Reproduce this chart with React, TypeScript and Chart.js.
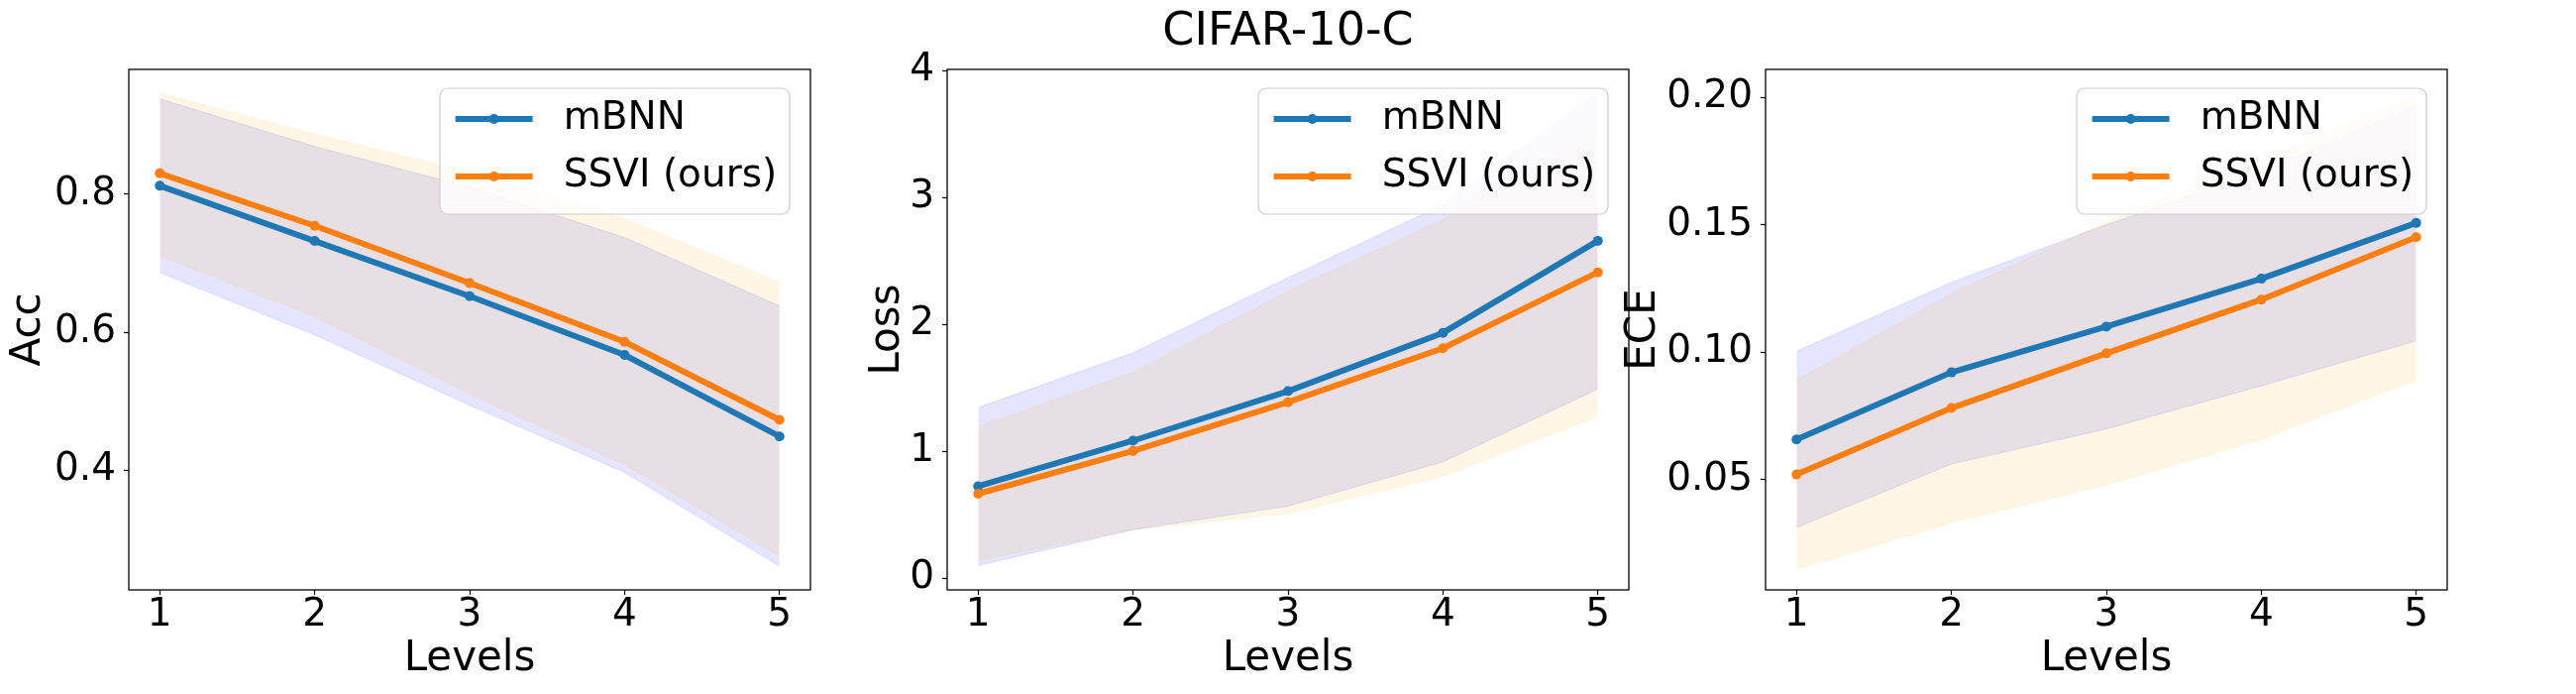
import React, { useEffect, useRef } from "react";
import { Chart, registerables } from "chart.js";

Chart.register(...registerables);

// ---------- data ----------
const levels = [1, 2, 3, 4, 5];
const seriesNames = ["mBNN", "SSVI (ours)"];
const chartTitle = "CIFAR-10-C";
const xLabel = "Levels";
const xTicks = [1, 2, 3, 4, 5];
const xTickLabels = ["1", "2", "3", "4", "5"];

// Acc
const accMbnn = [0.812, 0.732, 0.652, 0.567, 0.449];
const accSsvi = [0.83, 0.754, 0.671, 0.586, 0.473];
const accMbnnLow = [0.686, 0.596, 0.494, 0.397, 0.261];
const accMbnnHigh = [0.938, 0.869, 0.81, 0.737, 0.638];
const accSsviLow = [0.711, 0.622, 0.51, 0.408, 0.275];
const accSsviHigh = [0.946, 0.887, 0.831, 0.764, 0.672];
const accTicks = [0.4, 0.6, 0.8];
const accTickLabels = ["0.4", "0.6", "0.8"];

// Loss
const lossMbnn = [0.725, 1.084, 1.474, 1.934, 2.659];
const lossSsvi = [0.666, 1.003, 1.387, 1.812, 2.411];
const lossMbnnLow = [0.1, 0.383, 0.568, 0.916, 1.491];
const lossMbnnHigh = [1.345, 1.777, 2.37, 2.944, 3.826];
const lossSsviLow = [0.14, 0.383, 0.509, 0.805, 1.275];
const lossSsviHigh = [1.195, 1.624, 2.265, 2.826, 3.54];
const lossTicks = [0, 1, 2, 3, 4];
const lossTickLabels = ["0", "1", "2", "3", "4"];

// ECE
const eceMbnn = [0.0657, 0.092, 0.11, 0.1288, 0.1507];
const eceSsvi = [0.0519, 0.078, 0.0995, 0.1206, 0.1451];
const eceMbnnLow = [0.031, 0.056, 0.0698, 0.0867, 0.1044];
const eceMbnnHigh = [0.1003, 0.1274, 0.15, 0.171, 0.197];
const eceSsviLow = [0.0147, 0.033, 0.0479, 0.0657, 0.089];
const eceSsviHigh = [0.089, 0.123, 0.151, 0.1756, 0.2014];
const eceTicks = [0.05, 0.1, 0.15, 0.2];
const eceTickLabels = ["0.05", "0.10", "0.15", "0.20"];

// ---------- styles ----------
const FONT = "'DejaVu Sans', sans-serif";
const BLUE = "#1f77b4";
const ORANGE = "#ff7f0e";
const BLUE_FILL = "rgba(0,0,255,0.1)";
const ORANGE_FILL = "rgba(255,165,0,0.1)";
const LINE_W = 6;
const MARKER_R = 5;
const W = 2600;
const H = 700;

type PanelDef = {
  yLabel: string;
  yMin: number;
  yMax: number;
  ticks: number[];
  tickLabels: string[];
  mbnn: number[];
  ssvi: number[];
  mbnnLow: number[];
  mbnnHigh: number[];
  ssviLow: number[];
  ssviHigh: number[];
  left: number;
  right: number;
  padLeft: number;
  showTitle: boolean;
};

const panels: PanelDef[] = [
  {
    yLabel: "Acc", yMin: 0.2267, yMax: 0.9805, ticks: accTicks, tickLabels: accTickLabels,
    mbnn: accMbnn, ssvi: accSsvi, mbnnLow: accMbnnLow, mbnnHigh: accMbnnHigh, ssviLow: accSsviLow, ssviHigh: accSsviHigh,
    left: 130, right: 818, padLeft: 8, showTitle: false,
  },
  {
    yLabel: "Loss", yMin: -0.092, yMax: 4.01, ticks: lossTicks, tickLabels: lossTickLabels,
    mbnn: lossMbnn, ssvi: lossSsvi, mbnnLow: lossMbnnLow, mbnnHigh: lossMbnnHigh, ssviLow: lossSsviLow, ssviHigh: lossSsviHigh,
    left: 956, right: 1644, padLeft: 875, showTitle: true,
  },
  {
    yLabel: "ECE", yMin: 0.00658, yMax: 0.211, ticks: eceTicks, tickLabels: eceTickLabels,
    mbnn: eceMbnn, ssvi: eceSsvi, mbnnLow: eceMbnnLow, mbnnHigh: eceMbnnHigh, ssviLow: eceSsviLow, ssviHigh: eceSsviHigh,
    left: 1782, right: 2470, padLeft: 1638, showTitle: false,
  },
];

const frameAndLegend = {
  id: "frameAndLegend",
  afterDraw(chart: any) {
    const { ctx, chartArea } = chart;
    const { left, right, top, bottom } = chartArea;
    ctx.save();
    // axes frame
    ctx.strokeStyle = "#000";
    ctx.lineWidth = 1.3;
    ctx.strokeRect(left, top, right - left, bottom - top);
    // legend
    const bw = 353;
    const bh = 127;
    const bx = right - 21 - bw;
    const by = top + 19;
    ctx.beginPath();
    (ctx as any).roundRect(bx, by, bw, bh, 8);
    ctx.fillStyle = "rgba(255,255,255,0.8)";
    ctx.fill();
    ctx.strokeStyle = "#cccccc";
    ctx.lineWidth = 1.2;
    ctx.stroke();
    const items = [
      { label: seriesNames[0], color: BLUE },
      { label: seriesNames[1], color: ORANGE },
    ];
    items.forEach((it, i) => {
      const y = by + 31 + i * 58;
      ctx.beginPath();
      ctx.strokeStyle = it.color;
      ctx.lineWidth = LINE_W;
      ctx.lineCap = "butt";
      ctx.moveTo(bx + 15.6, y);
      ctx.lineTo(bx + 93.6, y);
      ctx.stroke();
      ctx.beginPath();
      ctx.fillStyle = it.color;
      ctx.arc(bx + 54.6, y, MARKER_R, 0, Math.PI * 2);
      ctx.fill();
      ctx.fillStyle = "#000";
      ctx.font = `39px ${FONT}`;
      ctx.textBaseline = "middle";
      ctx.textAlign = "left";
      ctx.fillText(it.label, bx + 124.8, y);
    });
    ctx.restore();
  },
};

function Panel({ p }: { p: PanelDef }) {
  const ref = useRef<HTMLCanvasElement>(null);
  useEffect(() => {
    const pts = (ys: number[]) => levels.map((x, i) => ({ x, y: ys[i] }));
    const yAxisW = p.left - p.padLeft;
    const tickFont = { family: FONT, size: 39, lineHeight: 1 };
    const chart = new Chart(ref.current as HTMLCanvasElement, {
      type: "line",
      data: {
        datasets: [
          {
            label: seriesNames[1], data: pts(p.ssvi), borderColor: ORANGE, backgroundColor: ORANGE,
            borderWidth: LINE_W, pointRadius: MARKER_R, pointBorderWidth: 0, pointBackgroundColor: ORANGE, tension: 0, fill: false,
          },
          {
            label: seriesNames[0], data: pts(p.mbnn), borderColor: BLUE, backgroundColor: BLUE,
            borderWidth: LINE_W, pointRadius: MARKER_R, pointBorderWidth: 0, pointBackgroundColor: BLUE, tension: 0, fill: false,
          },
          { label: "ssvi-low", data: pts(p.ssviLow), borderColor: ORANGE_FILL, borderWidth: 1, pointRadius: 0, fill: false },
          { label: "ssvi-high", data: pts(p.ssviHigh), borderColor: ORANGE_FILL, backgroundColor: ORANGE_FILL, borderWidth: 1, pointRadius: 0, fill: "-1" },
          { label: "mbnn-low", data: pts(p.mbnnLow), borderColor: BLUE_FILL, borderWidth: 1, pointRadius: 0, fill: false },
          { label: "mbnn-high", data: pts(p.mbnnHigh), borderColor: BLUE_FILL, backgroundColor: BLUE_FILL, borderWidth: 1, pointRadius: 0, fill: "-1" },
        ],
      },
      options: {
        animation: false,
        responsive: false,
        devicePixelRatio: 1,
        events: [],
        layout: { padding: { left: p.padLeft, right: W - p.right, top: p.showTitle ? 0 : 70, bottom: 0 } },
        plugins: {
          legend: { display: false },
          tooltip: { enabled: false },
          filler: { drawTime: "beforeDatasetsDraw" },
          title: p.showTitle
            ? {
                display: true, text: chartTitle, fullSize: false, color: "#000",
                font: { family: FONT, size: 46, weight: "normal", lineHeight: 1.2 },
                padding: { top: 5, bottom: 9.8 },
              }
            : { display: false },
        },
        scales: {
          x: {
            type: "linear", min: 0.8, max: 5.2,
            afterBuildTicks: (s: any) => { s.ticks = xTicks.map((v) => ({ value: v })); },
            afterFit: (s: any) => { s.height = H - 595; },
            ticks: {
              color: "#000", font: tickFont, padding: 1, maxRotation: 0, autoSkip: false,
              callback: (_v: any, i: number) => xTickLabels[i],
            },
            grid: { drawOnChartArea: false, drawTicks: true, tickLength: 5, color: "#000", tickColor: "#000", tickWidth: 1.2 },
            border: { display: false },
            title: { display: true, text: xLabel, color: "#000", font: { family: FONT, size: 42, lineHeight: 1 }, padding: { top: 0, bottom: 14 } },
          },
          y: {
            type: "linear", min: p.yMin, max: p.yMax,
            afterBuildTicks: (s: any) => { s.ticks = p.ticks.map((v) => ({ value: v })); },
            afterFit: (s: any) => { s.width = yAxisW; },
            ticks: {
              color: "#000", font: tickFont, padding: 8, autoSkip: false,
              callback: (_v: any, i: number) => p.tickLabels[i],
            },
            grid: { drawOnChartArea: false, drawTicks: true, tickLength: 5, color: "#000", tickColor: "#000", tickWidth: 1.2 },
            border: { display: false },
            title: { display: true, text: p.yLabel, color: "#000", font: { family: FONT, size: 42, lineHeight: 1 }, padding: { top: 0, bottom: 0 } },
          },
        },
      } as any,
      plugins: [frameAndLegend],
    });
    return () => chart.destroy();
  }, [p]);
  return (
    <canvas
      ref={ref}
      width={W}
      height={H}
      style={{ position: "absolute", left: 0, top: 0, width: W, height: H }}
    />
  );
}

export default function App() {
  return (
    <div style={{ position: "absolute", left: 0, top: 0, width: W, height: H, background: "#fff" }}>
      {panels.map((p, i) => (
        <Panel key={i} p={p} />
      ))}
    </div>
  );
}
